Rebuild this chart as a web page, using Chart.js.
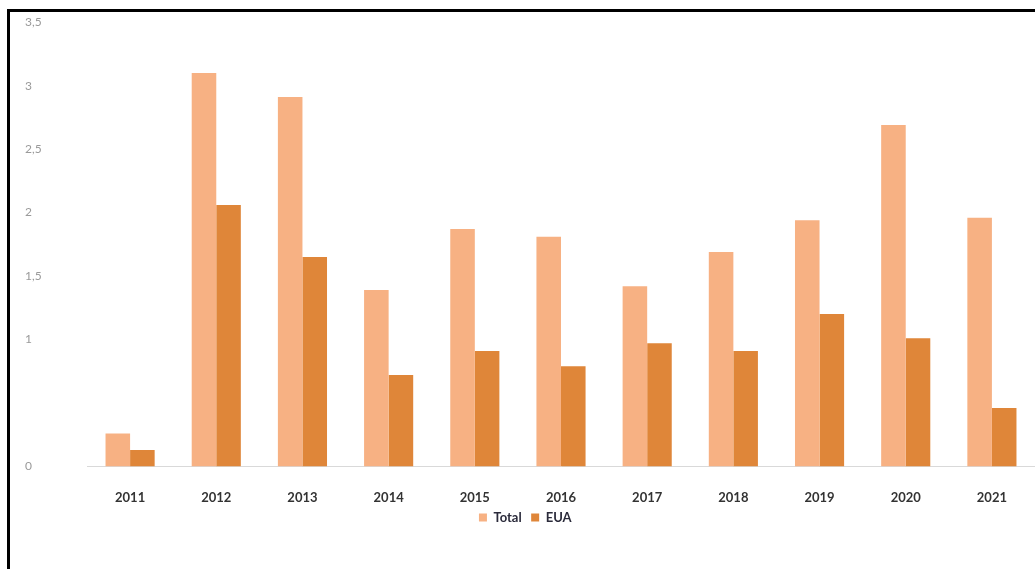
<!DOCTYPE html>
<html>
<head>
<meta charset="utf-8">
<script src="https://cdn.jsdelivr.net/npm/chart.js@4"></script>
<style>
    html, body { margin: 0; padding: 0; background: #fff; }
    #frame {
        position: absolute;
        left: 7px;
        top: 9px;
        width: 1025px;
        height: 557px;
        border-left: 3px solid #000;
        border-top: 3px solid #000;
    }
</style>
</head>
<body>
<div id="frame"><canvas id="barchart" width="1025" height="557"></canvas></div>
<script>
const years = ['2011', '2012', '2013', '2014', '2015', '2016', '2017', '2018', '2019', '2020', '2021'];
const totalValues = [0.26, 3.10, 2.91, 1.39, 1.87, 1.81, 1.42, 1.69, 1.94, 2.69, 1.96];
const euaValues = [0.13, 2.06, 1.65, 0.72, 0.91, 0.79, 0.97, 0.91, 1.20, 1.01, 0.46];
const yTicks = [0, 1, 1.5, 2, 2.5, 3, 3.5];

document.addEventListener('DOMContentLoaded', function () {
    new Chart('barchart', {
        type: 'bar',
        data: {
            labels: years,
            datasets: [{
                label: 'Total',
                data: totalValues,
                backgroundColor: '#f7b183',
                categoryPercentage: 0.57,
                barPercentage: 1
            }, {
                label: 'EUA',
                data: euaValues,
                backgroundColor: '#df8639',
                categoryPercentage: 0.57,
                barPercentage: 1
            }]
        },
        options: {
            responsive: false,
            animation: false,
            layout: {
                padding: { left: 15, right: 0, top: 3, bottom: 35 }
            },
            plugins: {
                tooltip: { enabled: false },
                legend: {
                    position: 'bottom',
                    labels: {
                        boxWidth: 8,
                        boxHeight: 8,
                        padding: 0,
                        color: '#2b2b3b',
                        font: { family: 'Lato', size: 13, weight: 'bold' },
                        generateLabels: function (chart) {
                            // default items, with a bit of gap between them
                            const items = Chart.defaults.plugins.legend.labels.generateLabels(chart);
                            items.forEach(it => { it.text = it.text + '   '; });
                            return items;
                        }
                    }
                }
            },
            scales: {
                x: {
                    grid: { display: false },
                    border: { display: true, color: '#d9d9d9', width: 1 },
                    afterFit: function (axis) { axis.height -= 11; },
                    ticks: {
                        color: '#333',
                        padding: 16,
                        font: { family: 'Lato', size: 13, weight: 'bold' }
                    }
                },
                y: {
                    min: 0,
                    max: 3.5,
                    grid: { display: false },
                    border: { display: false },
                    afterFit: function (axis) { axis.width = 62; },
                    afterBuildTicks: function (axis) {
                        axis.ticks = yTicks.map(v => ({ value: v }));
                    },
                    ticks: {
                        color: '#9a9a9a',
                        crossAlign: 'far',
                        font: { family: 'Lato', size: 12 },
                        callback: function (value) {
                            return String(value).replace('.', ',');
                        }
                    }
                }
            }
        }
    });
});
</script>
</body>
</html>
